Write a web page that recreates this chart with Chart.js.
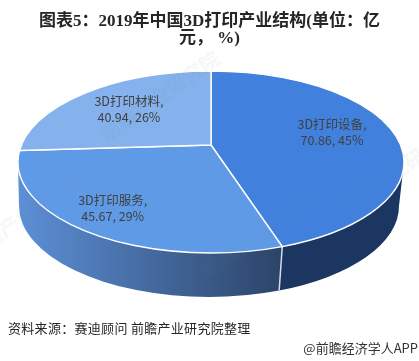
<!DOCTYPE html>
<html>
<head>
<meta charset="utf-8">
<script src="https://cdn.jsdelivr.net/npm/chart.js@4"></script>
<style>
  html, body { margin: 0; padding: 0; background: #fff; }
  canvas { display: block; }
</style>
</head>
<body>
<canvas id="pie" width="419" height="361"></canvas>
<script>
const titleLines = ['图表5：2019年中国3D打印产业结构(单位：亿', '元， %)'];
const categories = ['3D打印设备', '3D打印服务', '3D打印材料'];
const amounts = [70.86, 45.67, 40.94];
const shares = ['45%', '29%', '26%'];
const sliceColors = ['#4181dd', '#5f9ae6', '#85b1ec'];
const wallColors = ['#1b3660', ['#5c8fd6', '#2c4468'], null];
const labelReach = [0.665, 0.78, 0.67];
const labelLift = [4, 4, 0];
const sourceText = '资料来源：赛迪顾问 前瞻产业研究院整理';
const brandText = '@前瞻经济学人APP';
const watermarkText = '前瞻产业研究院';

// 椭圆顶面和底面
const top3d = { x: 211, y: 162, rx: 193, ry: 91, apexY: 145 };
const bottom3d = { x: 209, y: 206, rx: 190, ry: 91 };
const CJK = '"Noto Sans CJK SC", "Noto Sans", sans-serif';

// 透视: 真实角度 -> 椭圆上的角度 (0 = 顶部, 顺时针)
function projectAngle(theta) {
    const d = (top3d.y - top3d.apexY) / top3d.ry;
    const c = (1 - Math.sqrt(1 - d * d)) / d;
    const x = Math.sin(theta), y = Math.cos(theta);
    const e = 1 + c * y, f = -c * x, b = y + c;
    const n = e * e + f * f;
    const wx = (x * e + b * f) / n, wy = (b * e - x * f) / n;
    let diff = Math.atan2(wx, wy) - theta;
    diff = Math.atan2(Math.sin(diff), Math.cos(diff));
    return theta + diff;
}

function drawWall(ctx, from, to, color) {
    const a = Math.max(from, Math.PI / 2), b = Math.min(to, Math.PI * 1.5);
    if (!color || a >= b) return;
    ctx.beginPath();
    ctx.ellipse(top3d.x, top3d.y, top3d.rx, top3d.ry, 0, a - Math.PI / 2, b - Math.PI / 2);
    ctx.ellipse(bottom3d.x, bottom3d.y, bottom3d.rx, bottom3d.ry, 0, b - Math.PI / 2, a - Math.PI / 2, true);
    ctx.closePath();
    if (Array.isArray(color)) {
        const g = ctx.createLinearGradient(20, 0, 282, 0);
        g.addColorStop(0, color[0]);
        g.addColorStop(1, color[1]);
        ctx.fillStyle = g;
    } else {
        ctx.fillStyle = color;
    }
    ctx.fill();
}

const pie3d = {
    id: 'pie3d',
    beforeDatasetDraw(chart, args) {
        const ctx = chart.ctx;
        const arcs = chart.getDatasetMeta(args.index).data;
        const angles = arcs.map(a => [
            projectAngle(a.startAngle + Math.PI / 2),
            projectAngle(a.endAngle + Math.PI / 2)
        ]);
        ctx.save();

        arcs.forEach((a, i) => drawWall(ctx, angles[i][0], angles[i][1], wallColors[i]));

        // 侧面接缝
        const seam = angles[0][1];
        ctx.strokeStyle = '#d5dce6';
        ctx.lineWidth = 1.5;
        ctx.beginPath();
        ctx.moveTo(top3d.x + top3d.rx * Math.sin(seam), top3d.y - top3d.ry * Math.cos(seam));
        ctx.lineTo(bottom3d.x + bottom3d.rx * Math.sin(seam), bottom3d.y - bottom3d.ry * Math.cos(seam));
        ctx.stroke();

        // 顶面
        arcs.forEach((a, i) => {
            ctx.beginPath();
            ctx.moveTo(top3d.x, top3d.apexY);
            ctx.ellipse(top3d.x, top3d.y, top3d.rx, top3d.ry, 0,
                angles[i][0] - Math.PI / 2, angles[i][1] - Math.PI / 2);
            ctx.closePath();
            ctx.fillStyle = sliceColors[i];
            ctx.fill();
            ctx.strokeStyle = '#ffffff';
            ctx.lineWidth = 1.4;
            ctx.stroke();
        });

        // 水印
        ctx.fillStyle = 'rgba(120, 135, 165, 0.07)';
        ctx.font = 'bold 20px ' + CJK;
        ctx.textAlign = 'center';
        ctx.textBaseline = 'middle';
        [[160, 96], [262, 232], [398, 170], [25, 215]].forEach(p => {
            ctx.save();
            ctx.translate(p[0], p[1]);
            ctx.rotate(-35 * Math.PI / 180);
            ctx.fillText(watermarkText, 0, 0);
            ctx.restore();
        });

        // 标签
        ctx.fillStyle = '#404040';
        ctx.font = '12.5px ' + CJK;
        arcs.forEach((a, i) => {
            const mid = projectAngle((a.startAngle + a.endAngle) / 2 + Math.PI / 2);
            const ex = top3d.x + top3d.rx * Math.sin(mid);
            const ey = top3d.y - top3d.ry * Math.cos(mid);
            const lx = top3d.x + (ex - top3d.x) * labelReach[i];
            const ly = top3d.apexY + (ey - top3d.apexY) * labelReach[i] - labelLift[i];
            ctx.fillText(categories[i] + ',', lx, ly - 8);
            ctx.fillText(amounts[i].toFixed(2) + ', ' + shares[i], lx, ly + 8);
        });

        ctx.restore();
        return false;
    },
    afterDraw(chart) {
        const ctx = chart.ctx;
        ctx.save();
        ctx.textBaseline = 'middle';
        ctx.fillStyle = '#262626';
        ctx.font = '13px ' + CJK;
        ctx.textAlign = 'left';
        ctx.letterSpacing = '0.3px';
        ctx.fillText(sourceText, 8, 328);
        ctx.letterSpacing = '0px';
        ctx.fillStyle = '#333333';
        ctx.textAlign = 'right';
        ctx.fillText(brandText, 418, 348);
        ctx.restore();
    }
};

new Chart(document.getElementById('pie'), {
    type: 'pie',
    data: {
        labels: categories,
        datasets: [{ data: amounts, backgroundColor: sliceColors }]
    },
    options: {
        responsive: false,
        animation: false,
        events: [],
        plugins: {
            legend: { display: false },
            tooltip: { enabled: false },
            title: {
                display: true,
                text: titleLines,
                color: '#262626',
                font: { family: '"Liberation Serif", "Noto Sans CJK SC", serif', size: 17, weight: 'bold', lineHeight: 1.02 },
                padding: { top: 13, bottom: 10 }
            }
        }
    },
    plugins: [pie3d]
});
</script>
</body>
</html>
